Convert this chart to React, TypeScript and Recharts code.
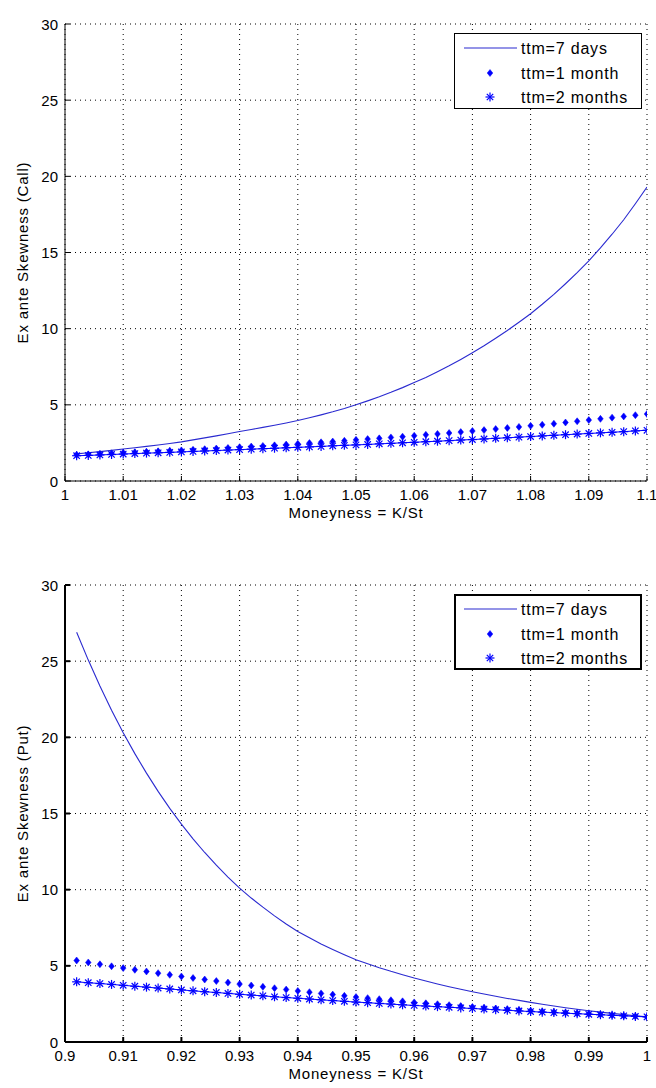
import React from 'react';
import { LineChart, Line, XAxis, YAxis, CartesianGrid, Legend } from 'recharts';

// ---------- data ----------
const callMoneyness = [
  1.002, 1.004, 1.006, 1.008, 1.01, 1.012, 1.014, 1.016, 1.018, 1.02,
  1.022, 1.024, 1.026, 1.028, 1.03, 1.032, 1.034, 1.036, 1.038, 1.04,
  1.042, 1.044, 1.046, 1.048, 1.05, 1.052, 1.054, 1.056, 1.058, 1.06,
  1.062, 1.064, 1.066, 1.068, 1.07, 1.072, 1.074, 1.076, 1.078, 1.08,
  1.082, 1.084, 1.086, 1.088, 1.09, 1.092, 1.094, 1.096, 1.098, 1.1,
];
const callTtm7d = [
  1.78, 1.85, 1.93, 2.01, 2.1, 2.18, 2.27, 2.36, 2.46, 2.57,
  2.7, 2.83, 2.96, 3.1, 3.25, 3.38, 3.52, 3.66, 3.81, 3.97,
  4.15, 4.34, 4.54, 4.76, 5.0, 5.26, 5.53, 5.82, 6.13, 6.46,
  6.8, 7.17, 7.56, 7.98, 8.42, 8.88, 9.37, 9.88, 10.42, 10.98,
  11.6, 12.25, 12.95, 13.68, 14.45, 15.3, 16.2, 17.15, 18.2, 19.3,
];
const callTtm1m = [
  1.72, 1.75, 1.78, 1.82, 1.86, 1.89, 1.92, 1.95, 1.98, 2.01,
  2.05, 2.09, 2.13, 2.17, 2.22, 2.26, 2.3, 2.34, 2.39, 2.44,
  2.49, 2.54, 2.59, 2.64, 2.7, 2.75, 2.8, 2.86, 2.91, 2.97,
  3.03, 3.09, 3.15, 3.21, 3.28, 3.34, 3.41, 3.48, 3.55, 3.62,
  3.69, 3.76, 3.84, 3.92, 4.0, 4.08, 4.16, 4.24, 4.32, 4.4,
];
const callTtm2m = [
  1.66, 1.68, 1.71, 1.74, 1.77, 1.8, 1.83, 1.85, 1.88, 1.91,
  1.94, 1.97, 2.0, 2.03, 2.06, 2.09, 2.12, 2.15, 2.18, 2.21,
  2.24, 2.27, 2.31, 2.34, 2.37, 2.4, 2.44, 2.47, 2.51, 2.54,
  2.58, 2.61, 2.65, 2.69, 2.72, 2.76, 2.8, 2.84, 2.88, 2.92,
  2.96, 3.0, 3.04, 3.08, 3.12, 3.16, 3.2, 3.24, 3.29, 3.33,
];

const putMoneyness = [
  0.902, 0.904, 0.906, 0.908, 0.91, 0.912, 0.914, 0.916, 0.918, 0.92,
  0.922, 0.924, 0.926, 0.928, 0.93, 0.932, 0.934, 0.936, 0.938, 0.94,
  0.942, 0.944, 0.946, 0.948, 0.95, 0.952, 0.954, 0.956, 0.958, 0.96,
  0.962, 0.964, 0.966, 0.968, 0.97, 0.972, 0.974, 0.976, 0.978, 0.98,
  0.982, 0.984, 0.986, 0.988, 0.99, 0.992, 0.994, 0.996, 0.998, 1.0,
];
const putTtm7d = [
  26.9, 25.07, 23.37, 21.78, 20.3, 18.93, 17.65, 16.45, 15.34, 14.3,
  13.34, 12.44, 11.61, 10.83, 10.1, 9.45, 8.85, 8.28, 7.75, 7.25,
  6.84, 6.44, 6.08, 5.73, 5.4, 5.14, 4.88, 4.64, 4.42, 4.2,
  4.0, 3.81, 3.63, 3.46, 3.3, 3.15, 3.0, 2.86, 2.73, 2.6,
  2.48, 2.36, 2.25, 2.15, 2.05, 1.96, 1.88, 1.8, 1.72, 1.65,
];
const putTtm1m = [
  5.35, 5.22, 5.1, 4.97, 4.85, 4.74, 4.63, 4.52, 4.41, 4.3,
  4.2, 4.1, 4.0, 3.9, 3.8, 3.71, 3.62, 3.53, 3.44, 3.35,
  3.27, 3.19, 3.11, 3.03, 2.95, 2.88, 2.81, 2.74, 2.67, 2.6,
  2.54, 2.48, 2.42, 2.36, 2.3, 2.25, 2.2, 2.15, 2.1, 2.05,
  2.01, 1.97, 1.93, 1.89, 1.85, 1.81, 1.77, 1.73, 1.69, 1.65,
];
const putTtm2m = [
  3.95, 3.89, 3.84, 3.78, 3.72, 3.66, 3.6, 3.54, 3.48, 3.42,
  3.36, 3.3, 3.25, 3.19, 3.13, 3.08, 3.03, 2.97, 2.92, 2.87,
  2.82, 2.77, 2.72, 2.67, 2.62, 2.58, 2.53, 2.49, 2.44, 2.4,
  2.36, 2.32, 2.28, 2.24, 2.2, 2.16, 2.12, 2.08, 2.04, 2.0,
  1.96, 1.93, 1.89, 1.86, 1.82, 1.79, 1.75, 1.72, 1.68, 1.65,
];

const callTicks = [1, 1.01, 1.02, 1.03, 1.04, 1.05, 1.06, 1.07, 1.08, 1.09, 1.1];
const putTicks = [0.9, 0.91, 0.92, 0.93, 0.94, 0.95, 0.96, 0.97, 0.98, 0.99, 1];
const yTicks = [0, 5, 10, 15, 20, 25, 30];
const seriesNames = ['ttm=7 days', 'ttm=1 month', 'ttm=2 months'];

// ---------- styling ----------
const FONT = "'Liberation Sans', Arial, Helvetica, sans-serif";
const BLUE = '#0000ff';
const LINE_BLUE = '#2a2ad0';
const TICK_LEN = 5;

const fmt = (v: number) => String(Number(v.toFixed(2)));

const Diamond = (p: any) => {
  const { cx, cy } = p;
  if (cx == null || cy == null) return <g />;
  return (
    <path
      d={`M${cx},${cy - 3.5}L${cx + 2.8},${cy}L${cx},${cy + 3.5}L${cx - 2.8},${cy}Z`}
      fill={BLUE}
      stroke={BLUE}
      strokeWidth={0.5}
    />
  );
};

const Star = (p: any) => {
  const { cx, cy } = p;
  if (cx == null || cy == null) return <g />;
  const r = 4.5;
  const d = 3.2;
  return (
    <g stroke={BLUE} strokeWidth={1.2}>
      <line x1={cx - r} y1={cy} x2={cx + r} y2={cy} />
      <line x1={cx} y1={cy - r} x2={cx} y2={cy + r} />
      <line x1={cx - d} y1={cy - d} x2={cx + d} y2={cy + d} />
      <line x1={cx - d} y1={cy + d} x2={cx + d} y2={cy - d} />
    </g>
  );
};

const makeLegend = (fw: number) => () => {
  const W = 188;
  const H = 76;
  const rows = [15, 40, 64];
  return (
    <svg width={W} height={H} style={{ display: 'block' }}>
      <rect x={fw / 2} y={fw / 2} width={W - fw} height={H - fw} fill="#fff" stroke="#000" strokeWidth={fw} />
      <line x1={10} y1={rows[0]} x2={63} y2={rows[0]} stroke={LINE_BLUE} strokeWidth={1.2} />
      <Diamond cx={36} cy={rows[1]} />
      <Star cx={36} cy={rows[2]} />
      {seriesNames.map((n, i) => (
        <text key={n} x={67} y={rows[i] + 5.5} fontFamily={FONT} fontSize={16} letterSpacing={0.8} fill="#000">
          {n}
        </text>
      ))}
    </svg>
  );
};

type PanelProps = {
  moneyness: number[];
  d7: number[];
  m1: number[];
  m2: number[];
  xTicks: number[];
  ylabel: string;
  fw: number;
  top: number;
};

const CHART_W = 656;
const CHART_H = 527;
const M_TOP = 24;
const M_RIGHT = 9;
const M_LEFT = 15;
const Y_W = 50;
const X_H = 46;

const Panel = ({ moneyness, d7, m1, m2, xTicks, ylabel, fw, top }: PanelProps) => {
  const data = moneyness.map((x, i) => ({ x, d7: d7[i], m1: m1[i], m2: m2[i] }));
  const domain: [number, number] = [xTicks[0], xTicks[xTicks.length - 1]];

  const BottomTick = (p: any) => {
    const { x, y, payload } = p;
    return (
      <g>
        <line x1={x} y1={y} x2={x} y2={y - TICK_LEN} stroke="#000" strokeWidth={fw} />
        <text x={x} y={y + 19} textAnchor="middle" fontFamily={FONT} fontSize={15} fill="#000">
          {fmt(payload.value)}
        </text>
      </g>
    );
  };
  const TopTick = (p: any) => {
    const { x, y } = p;
    return <line x1={x} y1={y} x2={x} y2={y + TICK_LEN} stroke="#000" strokeWidth={fw} />;
  };
  const LeftTick = (p: any) => {
    const { x, y, payload } = p;
    return (
      <g>
        <line x1={x} y1={y} x2={x + TICK_LEN} y2={y} stroke="#000" strokeWidth={fw} />
        <text x={x - 7} y={y + 5.5} textAnchor="end" fontFamily={FONT} fontSize={15} fill="#000">
          {fmt(payload.value)}
        </text>
      </g>
    );
  };
  const RightTick = (p: any) => {
    const { x, y } = p;
    return <line x1={x} y1={y} x2={x - TICK_LEN} y2={y} stroke="#000" strokeWidth={fw} />;
  };

  const XLabel = (p: any) => {
    const vb = p.viewBox || {};
    return (
      <text
        x={vb.x + vb.width / 2}
        y={vb.y + 37}
        textAnchor="middle"
        fontFamily={FONT}
        fontSize={15}
        letterSpacing={0.8}
        fill="#000"
      >
        Moneyness = K/St
      </text>
    );
  };
  const YLabel = (p: any) => {
    const vb = p.viewBox || {};
    const cx = 22;
    const cy = vb.y + vb.height / 2;
    return (
      <text
        x={cx}
        y={cy}
        transform={`rotate(-90, ${cx}, ${cy})`}
        textAnchor="middle"
        dominantBaseline="central"
        fontFamily={FONT}
        fontSize={15}
        letterSpacing={0.8}
        fill="#000"
      >
        {ylabel}
      </text>
    );
  };

  const axisLine = { stroke: '#000', strokeWidth: fw };

  return (
    <div style={{ position: 'absolute', left: 0, top, width: CHART_W, height: CHART_H }}>
      <LineChart
        width={CHART_W}
        height={CHART_H}
        data={data}
        margin={{ top: M_TOP, right: M_RIGHT, bottom: 0, left: M_LEFT }}
      >
        <CartesianGrid stroke="#000" strokeDasharray="1 4" strokeWidth={1} />
        <XAxis
          dataKey="x"
          type="number"
          domain={domain}
          ticks={xTicks}
          interval={0}
          allowDataOverflow
          height={X_H}
          tickSize={0}
          tickMargin={0}
          axisLine={axisLine}
          tickLine={false}
          tick={BottomTick}
          label={XLabel}
        />
        <XAxis
          xAxisId="top"
          orientation="top"
          dataKey="x"
          type="number"
          domain={domain}
          ticks={xTicks}
          interval={0}
          allowDataOverflow
          height={0}
          tickSize={0}
          tickMargin={0}
          axisLine={axisLine}
          tickLine={false}
          tick={TopTick}
        />
        <YAxis
          type="number"
          domain={[0, 30]}
          ticks={yTicks}
          interval={0}
          allowDataOverflow
          width={Y_W}
          tickSize={0}
          tickMargin={0}
          axisLine={axisLine}
          tickLine={false}
          tick={LeftTick}
          label={YLabel}
        />
        <YAxis
          yAxisId="right"
          orientation="right"
          type="number"
          domain={[0, 30]}
          ticks={yTicks}
          interval={0}
          allowDataOverflow
          width={0}
          tickSize={0}
          tickMargin={0}
          axisLine={axisLine}
          tickLine={false}
          tick={RightTick}
        />
        <Line
          name={seriesNames[0]}
          dataKey="d7"
          type="linear"
          stroke={LINE_BLUE}
          strokeWidth={1.1}
          dot={false}
          activeDot={false}
          isAnimationActive={false}
        />
        <Line
          name={seriesNames[1]}
          dataKey="m1"
          type="linear"
          stroke="none"
          strokeWidth={0}
          dot={(p: any) => <Diamond key={`d-${p.index}`} {...p} />}
          activeDot={false}
          isAnimationActive={false}
        />
        <Line
          name={seriesNames[2]}
          dataKey="m2"
          type="linear"
          stroke={BLUE}
          strokeWidth={1}
          dot={(p: any) => <Star key={`s-${p.index}`} {...p} />}
          activeDot={false}
          isAnimationActive={false}
        />
        <Legend
          layout="vertical"
          align="center"
          verticalAlign="middle"
          wrapperStyle={{ position: 'absolute', left: 454, top: 33, width: 188, height: 76 }}
          content={makeLegend(fw)}
        />
      </LineChart>
    </div>
  );
}

export default function App() {
  return (
    <div style={{ position: 'absolute', left: 0, top: 0, width: 656, height: 1088, background: '#fff' }}>
      <Panel
        moneyness={callMoneyness}
        d7={callTtm7d}
        m1={callTtm1m}
        m2={callTtm2m}
        xTicks={callTicks}
        ylabel="Ex ante Skewness (Call)"
        fw={1}
        top={0}
      />
      <Panel
        moneyness={putMoneyness}
        d7={putTtm7d}
        m1={putTtm1m}
        m2={putTtm2m}
        xTicks={putTicks}
        ylabel="Ex ante Skewness (Put)"
        fw={2}
        top={561}
      />
    </div>
  );
}
